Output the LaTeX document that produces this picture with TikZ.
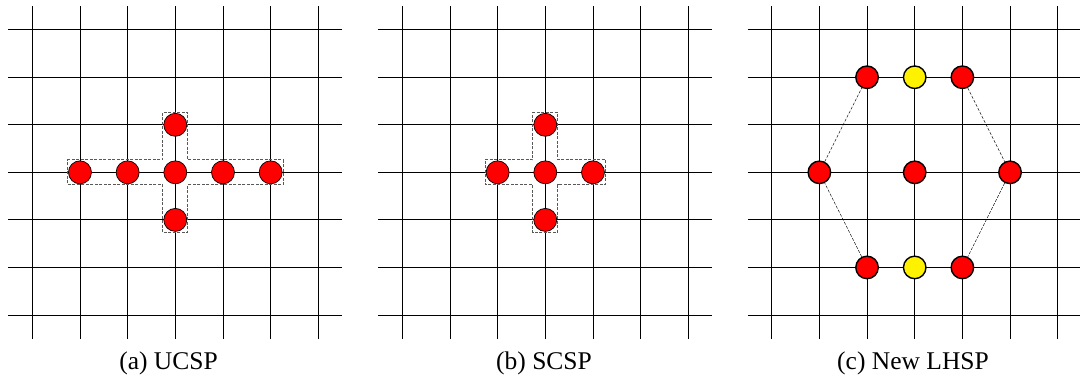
\documentclass[tikz,border=0pt]{standalone}
\usepackage{fontspec}
\setmainfont{Liberation Serif}
\usetikzlibrary{calc}
\begin{document}
\begin{tikzpicture}[
  gridline/.style={line width=0.8pt, black},
  dot/.style={circle, draw=black, line width=0.7pt, fill=red, minimum size=23pt, inner sep=0pt},
  dotc/.style={circle, draw=black, line width=1.4pt, fill=red, minimum size=22.5pt, inner sep=0pt},
  doty/.style={dotc, fill=yellow},
  outline/.style={draw=black!65, line width=0.7pt, dash pattern=on 3pt off 1.5pt},
  hexside/.style={draw=black, line width=0.45pt, dash pattern=on 3pt off 1.5pt},
  caption/.style={font=\fontsize{25.5}{30}\selectfont, anchor=base, inner sep=0pt}
]
\useasboundingbox (0,0) rectangle (1080pt,378pt);
\def\m{12.5pt}
% ---------- panel (a)
\begin{scope}[shift={(32.3pt,63pt)}, x=47.67pt, y=47.55pt]
  \foreach \i in {0,...,6} {
    \draw[gridline] (\i,-0.5) -- (\i,6.5);
    \draw[gridline] (-0.5,\i) -- (6.5,\i);
  }
  \node[dot] (aL2) at (1,3) {};
  \node[dot] (aL1) at (2,3) {};
  \node[dot] (aC) at (3,3) {};
  \node[dot] (aR1) at (4,3) {};
  \node[dot] (aR2) at (5,3) {};
  \node[dot] (aT) at (3,4) {};
  \node[dot] (aB) at (3,2) {};
  \draw[outline] ($(aL2.center)+(-\m,\m)$) -- ($(aC.center)+(-\m,\m)$) -- ($(aT.center)+(-\m,\m)$)
    -- ($(aT.center)+(\m,\m)$) -- ($(aC.center)+(\m,\m)$) -- ($(aR2.center)+(\m,\m)$)
    -- ($(aR2.center)+(\m,-\m)$) -- ($(aC.center)+(\m,-\m)$) -- ($(aB.center)+(\m,-\m)$)
    -- ($(aB.center)+(-\m,-\m)$) -- ($(aC.center)+(-\m,-\m)$) -- ($(aL2.center)+(-\m,-\m)$) -- cycle;
\end{scope}
\node[caption] (capa) at (168.5pt,8.5pt) {(a) UCSP};
% ---------- panel (b)
\begin{scope}[shift={(402.3pt,63pt)}, x=47.67pt, y=47.55pt]
  \foreach \i in {0,...,6} {
    \draw[gridline] (\i,-0.5) -- (\i,6.5);
    \draw[gridline] (-0.5,\i) -- (6.5,\i);
  }
  \node[dot] (bL) at (2,3) {};
  \node[dot] (bC) at (3,3) {};
  \node[dot] (bR) at (4,3) {};
  \node[dot] (bT) at (3,4) {};
  \node[dot] (bB) at (3,2) {};
  \draw[outline] ($(bL.center)+(-\m,\m)$) -- ($(bC.center)+(-\m,\m)$) -- ($(bT.center)+(-\m,\m)$)
    -- ($(bT.center)+(\m,\m)$) -- ($(bC.center)+(\m,\m)$) -- ($(bR.center)+(\m,\m)$)
    -- ($(bR.center)+(\m,-\m)$) -- ($(bC.center)+(\m,-\m)$) -- ($(bB.center)+(\m,-\m)$)
    -- ($(bB.center)+(-\m,-\m)$) -- ($(bC.center)+(-\m,-\m)$) -- ($(bL.center)+(-\m,-\m)$) -- cycle;
\end{scope}
\node[caption] (capb) at (544pt,8.5pt) {(b) SCSP};
% ---------- panel (c)
\begin{scope}[shift={(771.7pt,63pt)}, x=47.67pt, y=47.55pt]
  \foreach \i in {0,...,6} {
    \draw[gridline] (\i,-0.5) -- (\i,6.5);
    \draw[gridline] (-0.5,\i) -- (6.5,\i);
  }
  \node[dotc] (cTL) at (2,5) {};
  \node[doty] (cT) at (3,5) {};
  \node[dotc] (cTR) at (4,5) {};
  \node[dotc] (cL) at (1,3) {};
  \node[dotc] (cC) at (3,3) {};
  \node[dotc] (cR) at (5,3) {};
  \node[dotc] (cBL) at (2,1) {};
  \node[doty] (cB) at (3,1) {};
  \node[dotc] (cBR) at (4,1) {};
  \draw[hexside] (cL) -- (cTL);
  \draw[hexside] (cTR) -- (cR);
  \draw[hexside] (cR) -- (cBR);
  \draw[hexside] (cBL) -- (cL);
\end{scope}
\node[caption] (capc) at (913pt,8.5pt) {(c) New LHSP};
\end{tikzpicture}
\end{document}
